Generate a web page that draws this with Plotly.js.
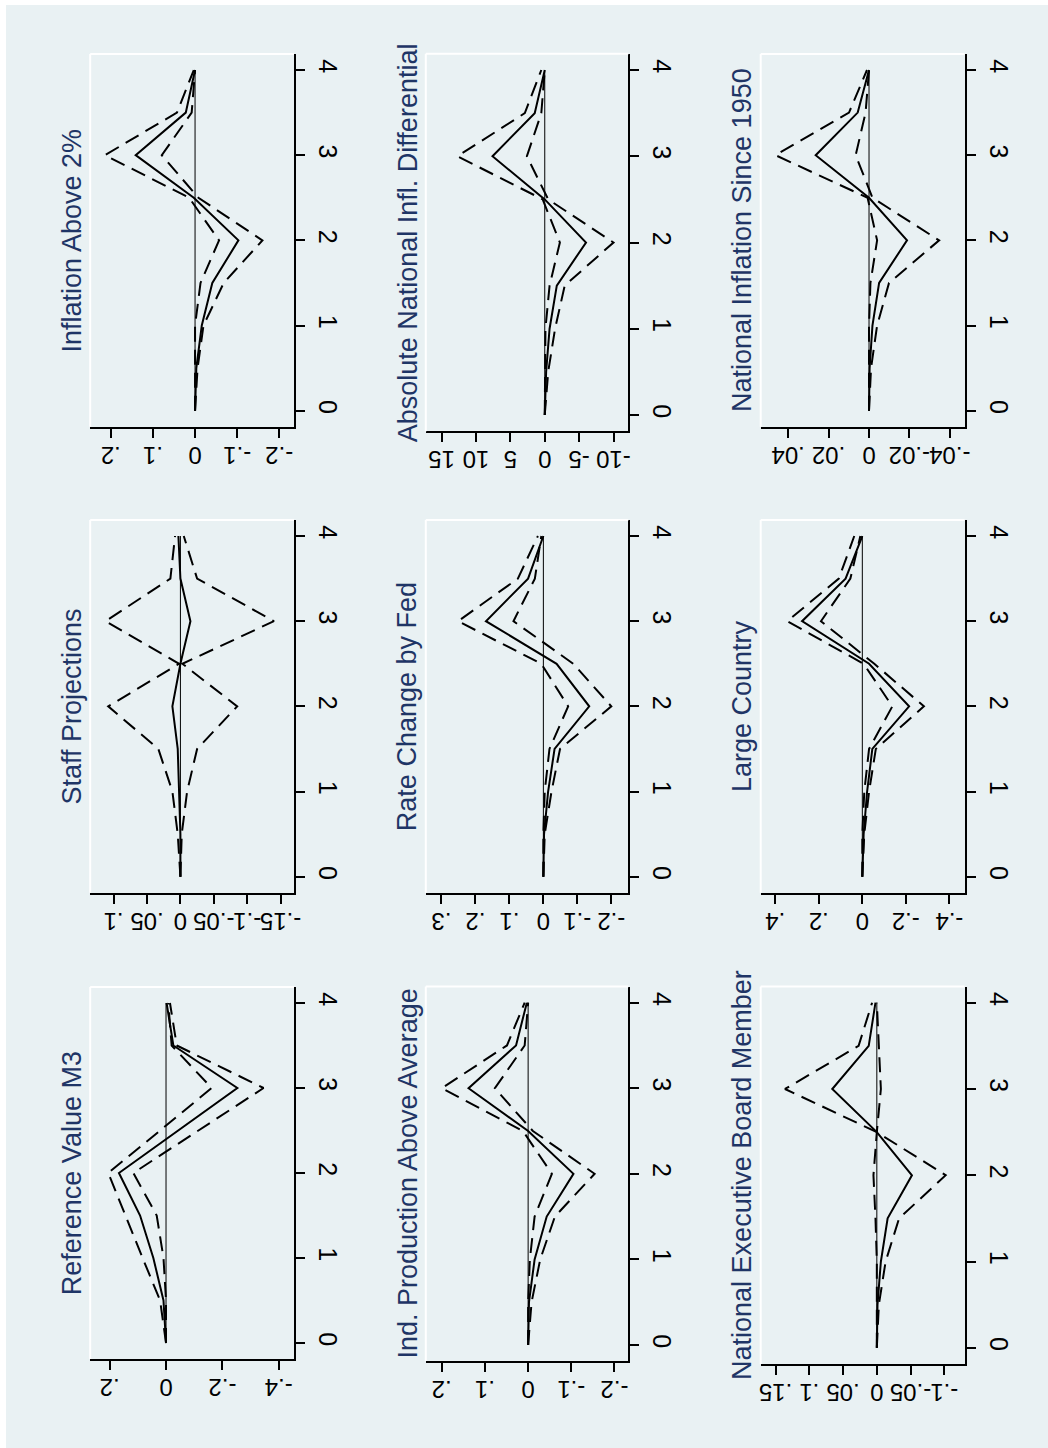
<!DOCTYPE html>
<html>
<head>
<meta charset="utf-8">
<script src="https://cdn.plot.ly/plotly-3.0.1.min.js"></script>
<style>
  html, body { margin: 0; padding: 0; background: #ffffff; }
  #chart { width: 1048px; height: 1448px; }
</style>
</head>
<body>
<div id="chart"></div>
<script>
// ---------------- DATA ----------------
var horizon = [0, 0.5, 1, 1.5, 2, 2.5, 3, 3.5, 4];
var horizonTicks = [0, 1, 2, 3, 4];
var zeroLine = [0, 0];

var titles = [
  "Inflation Above 2%", "Absolute National Infl. Differential", "National Inflation Since 1950",
  "Staff Projections", "Rate Change by Fed", "Large Country",
  "Reference Value M3", "Ind. Production Above Average", "National Executive Board Member"
];

// Inflation Above 2%
var inflAbove2_est = [0, -0.003, -0.016, -0.041, -0.103, 0.003, 0.141, 0.022, 0];
var inflAbove2_up  = [0, 0, 0, -0.013, -0.057, 0.014, 0.214, 0.043, 0.003];
var inflAbove2_lo  = [0, -0.006, -0.02, -0.068, -0.16, -0.008, 0.079, 0.008, 0];
var inflAbove2_ticks = [-0.2, -0.1, 0, 0.1, 0.2];
var inflAbove2_labels = ["-.2", "-.1", "0", ".1", ".2"];

// Absolute National Infl. Differential
var absDiff_est = [0, -0.2, -0.7, -1.75, -6.0, 0, 7.6, 1.46, 0];
var absDiff_up  = [0, 0, -0.1, -0.7, -2.2, 0.3, 12.7, 2.9, 0.5];
var absDiff_lo  = [0, -0.5, -1.5, -2.9, -10.0, -0.5, 2.6, 0.5, 0];
var absDiff_ticks = [-10, -5, 0, 5, 10, 15];
var absDiff_labels = ["-10", "-5", "0", "5", "10", "15"];

// National Inflation Since 1950
var natInfl_est = [0, -0.0003, -0.0017, -0.005, -0.0188, 0, 0.0264, 0.0056, 0];
var natInfl_up  = [0, 0, 0, -0.0007, -0.004, 0.0007, 0.0463, 0.0099, 0.001];
var natInfl_lo  = [0, -0.001, -0.004, -0.0099, -0.0347, -0.0017, 0.0066, 0.0017, 0];
var natInfl_ticks = [-0.04, -0.02, 0, 0.02, 0.04];
var natInfl_labels = ["-.04", "-.02", "0", ".02", ".04"];

// Staff Projections
var staff_est = [0, 0, 0.002, 0.004, 0.012, 0, -0.015, 0, 0.003];
var staff_up  = [0, 0.004, 0.012, 0.033, 0.108, 0.002, 0.112, 0.015, 0.008];
var staff_lo  = [0, -0.002, -0.01, -0.025, -0.085, -0.003, -0.14, -0.025, -0.005];
var staff_ticks = [-0.15, -0.1, -0.05, 0, 0.05, 0.1];
var staff_labels = ["-.15", "-.1", "-.05", "0", ".05", ".1"];

// Rate Change by Fed
var fed_est = [0, -0.002, -0.014, -0.033, -0.135, -0.039, 0.169, 0.045, 0];
var fed_up  = [0, 0, -0.004, -0.018, -0.073, 0.006, 0.251, 0.075, 0.016];
var fed_lo  = [0, -0.004, -0.024, -0.049, -0.2, -0.088, 0.088, 0.025, 0.006];
var fed_ticks = [-0.2, -0.1, 0, 0.1, 0.2, 0.3];
var fed_labels = ["-.2", "-.1", "0", ".1", ".2", ".3"];

// Large Country
var large_est = [0, -0.006, -0.022, -0.046, -0.215, -0.031, 0.277, 0.077, 0];
var large_up  = [0, 0, -0.009, -0.031, -0.138, -0.006, 0.345, 0.108, 0.037];
var large_lo  = [0, -0.009, -0.031, -0.062, -0.283, -0.055, 0.19, 0.055, 0.009];
var large_ticks = [-0.4, -0.2, 0, 0.2, 0.4];
var large_labels = ["-.4", "-.2", "0", ".2", ".4"];

// Reference Value M3
var refM3_est = [0, 0.009, 0.045, 0.092, 0.167, -0.043, -0.253, -0.026, -0.002];
var refM3_up  = [0, 0.021, 0.083, 0.143, 0.205, 0.021, -0.162, -0.02, -0.008];
var refM3_lo  = [0, 0, 0.009, 0.033, 0.116, -0.115, -0.346, -0.038, -0.014];
var refM3_ticks = [-0.4, -0.2, 0, 0.2];
var refM3_labels = ["-.4", "-.2", "0", ".2"];

// Ind. Production Above Average
var indProd_est = [0, -0.002, -0.015, -0.043, -0.105, 0, 0.138, 0.028, 0.003];
var indProd_up  = [0, 0, -0.004, -0.015, -0.055, 0.012, 0.2, 0.049, 0.008];
var indProd_lo  = [0, -0.008, -0.028, -0.062, -0.154, -0.011, 0.077, 0.008, 0];
var indProd_ticks = [-0.2, -0.1, 0, 0.1, 0.2];
var indProd_labels = ["-.2", "-.1", "0", ".1", ".2"];

// National Executive Board Member
var natExec_est = [0, -0.001, -0.006, -0.016, -0.052, 0, 0.066, 0.012, 0.002];
var natExec_up  = [0, -0.003, -0.013, -0.033, -0.102, 0, 0.136, 0.027, 0.007];
var natExec_lo  = [0, 0, 0, 0.002, 0.005, 0, -0.006, -0.003, 0];
var natExec_ticks = [-0.1, -0.05, 0, 0.05, 0.1, 0.15];
var natExec_labels = ["-.1", "-.05", "0", ".05", ".1", ".15"];

// ---------------- LAYOUT / STYLE ----------------
var W = 1048, H = 1448;
var panels = [
  {est: inflAbove2_est, up: inflAbove2_up, lo: inflAbove2_lo, tv: inflAbove2_ticks, tl: inflAbove2_labels},
  {est: absDiff_est, up: absDiff_up, lo: absDiff_lo, tv: absDiff_ticks, tl: absDiff_labels},
  {est: natInfl_est, up: natInfl_up, lo: natInfl_lo, tv: natInfl_ticks, tl: natInfl_labels},
  {est: staff_est, up: staff_up, lo: staff_lo, tv: staff_ticks, tl: staff_labels},
  {est: fed_est, up: fed_up, lo: fed_lo, tv: fed_ticks, tl: fed_labels},
  {est: large_est, up: large_up, lo: large_lo, tv: large_ticks, tl: large_labels},
  {est: refM3_est, up: refM3_up, lo: refM3_lo, tv: refM3_ticks, tl: refM3_labels},
  {est: indProd_est, up: indProd_up, lo: indProd_lo, tv: indProd_ticks, tl: indProd_labels},
  {est: natExec_est, up: natExec_up, lo: natExec_lo, tv: natExec_ticks, tl: natExec_labels}
];
// pixel geometry: [left, right, top, bottom], value range [left, right]
var geom = [
  [90.2, 294, 54, 426.7, [0.249, -0.235]],
  [425.8, 628.3, 53.8, 431.2, [17.3, -12.15]],
  [760.7, 964.6, 54, 426.7, [0.0536, -0.0473]],
  [90.2, 294, 520, 892.7, [0.135, -0.17]],
  [425.8, 628.3, 520, 892.7, [0.346, -0.25]],
  [760.7, 964.6, 520, 892.7, [0.467, -0.47]],
  [90.2, 294, 987, 1359, [0.269, -0.454]],
  [425.8, 628.3, 986.6, 1361, [0.237, -0.232]],
  [760.7, 964.6, 986.5, 1364, [0.172, -0.13]]
];
var hRange = [-0.188, 4.188];
var bg = "#e9f1f3";
var fontFam = "Liberation Sans, Arial, Helvetica, sans-serif";
var dashPat = "15px,8px";

var traces = [];
var layout = {
  width: W, height: H,
  margin: {l: 0, r: 0, t: 0, b: 0},
  paper_bgcolor: "#ffffff",
  plot_bgcolor: bg,
  showlegend: false,
  shapes: [
    {type: "rect", xref: "paper", yref: "paper", x0: 6 / W, x1: 1, y0: 0, y1: 1 - 5 / H,
     fillcolor: bg, line: {width: 0}, layer: "below"}
  ],
  annotations: []
};

panels.forEach(function (p, i) {
  var n = i + 1;
  var xa = "x" + (n === 1 ? "" : n), ya = "y" + (n === 1 ? "" : n);
  var g = geom[i];
  var xd = [g[0] / W, g[1] / W];
  var yd = [1 - g[3] / H, 1 - g[2] / H];
  var xKey = "xaxis" + (n === 1 ? "" : n), yKey = "yaxis" + (n === 1 ? "" : n);
  layout[xKey] = {
    domain: xd, anchor: ya, range: g[4],
    showgrid: false, zeroline: false, showline: true, linecolor: "#000", linewidth: 2,
    ticks: "outside", ticklen: 9, tickwidth: 2, tickcolor: "#000",
    tickmode: "array", tickvals: p.tv, ticktext: p.tl, tickangle: 180,
    ticklabelstandoff: 4,
    tickfont: {family: fontFam, size: 24, color: "#000"}, fixedrange: true
  };
  layout[yKey] = {
    domain: yd, anchor: xa, side: "right", range: hRange,
    showgrid: false, zeroline: false, showline: true, linecolor: "#000", linewidth: 2,
    ticks: "outside", ticklen: 9, tickwidth: 2, tickcolor: "#000",
    tickmode: "array", tickvals: horizonTicks, ticktext: horizonTicks.map(String), tickangle: 90,
    ticklabelstandoff: 4,
    tickfont: {family: fontFam, size: 25, color: "#000"}, fixedrange: true
  };
  // white top and left edges of plot region
  layout.shapes.push({type: "line", xref: "paper", yref: "paper", x0: xd[0], x1: xd[1], y0: yd[1], y1: yd[1],
    line: {color: "#ffffff", width: 2}, layer: "above"});
  layout.shapes.push({type: "line", xref: "paper", yref: "paper", x0: xd[0], x1: xd[0], y0: yd[0], y1: yd[1],
    line: {color: "#ffffff", width: 2}, layer: "above"});
  // title
  layout.annotations.push({
    xref: "paper", yref: "paper", x: (g[0] - 18) / W, y: (yd[0] + yd[1]) / 2,
    text: titles[i], textangle: -90, showarrow: false, xanchor: "center", yanchor: "middle",
    font: {family: fontFam, size: 27, color: "#1f3566"}
  });
  // zero reference line
  traces.push({x: zeroLine, y: [horizon[0], horizon[horizon.length - 1]], xaxis: xa, yaxis: ya,
    mode: "lines", line: {color: "#000", width: 1}, hoverinfo: "skip"});
  traces.push({x: p.up, y: horizon, xaxis: xa, yaxis: ya, mode: "lines",
    line: {color: "#000", width: 2, dash: dashPat}});
  traces.push({x: p.lo, y: horizon, xaxis: xa, yaxis: ya, mode: "lines",
    line: {color: "#000", width: 2, dash: dashPat}});
  traces.push({x: p.est, y: horizon, xaxis: xa, yaxis: ya, mode: "lines",
    line: {color: "#000", width: 2}});
});

Plotly.newPlot("chart", traces, layout, {displayModeBar: false, staticPlot: true});
</script>
</body>
</html>
